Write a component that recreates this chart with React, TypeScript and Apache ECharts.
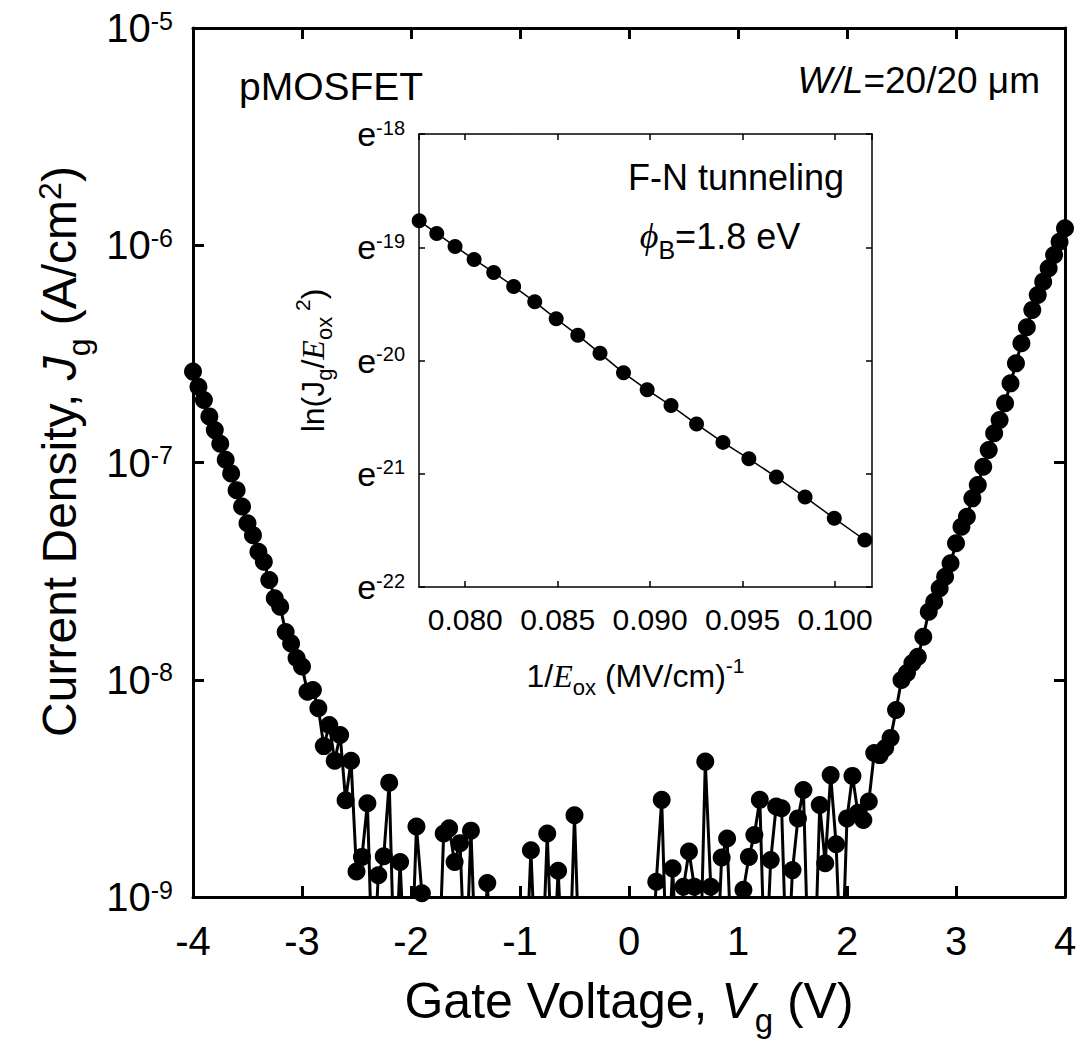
import React, { useEffect, useRef } from "react";
import * as echarts from "echarts";

const SANS = "'Liberation Sans', Arial, Helvetica, sans-serif";
const SERIF = "'Liberation Serif', 'Times New Roman', Times, serif";
const BLACK = "#000000";

// ---------- Main plot: gate-voltage sweep (V) and gate current density (A/cm^2) ----------
const V_START = -4;
const V_STEP = 0.05;
// values below 1e-9 A/cm^2 fall under the plotted floor (drawn as 4e-10, clipped)
const gateCurrent: number[] = [
  2.62e-7, 2.23e-7, 1.94e-7, 1.63e-7, 1.41e-7, 1.22e-7, 1.03e-7, 8.91e-8, 7.46e-8, 6.27e-8,
  5.25e-8, 4.63e-8, 3.88e-8, 3.49e-8, 2.88e-8, 2.37e-8, 2.17e-8, 1.66e-8, 1.47e-8, 1.26e-8,
  1.15e-8, 8.81e-9, 8.97e-9, 7.4e-9, 4.95e-9, 6.19e-9, 4.24e-9, 5.57e-9, 2.79e-9, 4.24e-9,
  1.31e-9, 1.53e-9, 2.7e-9, 4e-10, 1.26e-9, 1.54e-9, 3.36e-9, 4e-10, 1.45e-9, 4e-10,
  4e-10, 2.11e-9, 1.04e-9, 4e-10, 4e-10, 4e-10, 1.96e-9, 2.07e-9, 1.45e-9, 1.77e-9,
  4e-10, 2.02e-9, 4e-10, 4e-10, 1.16e-9, 4e-10, 4e-10, 4e-10, 4e-10, 4e-10,
  4e-10, 4e-10, 1.64e-9, 4e-10, 4e-10, 1.96e-9, 4e-10, 1.32e-9, 4e-10, 4e-10,
  2.38e-9, 4e-10, 4e-10, 4e-10, 4e-10, 4e-10, 4e-10, 4e-10, 4e-10, 4e-10,
  4e-10, 4e-10, 4e-10, 4e-10, 4e-10, 1.175e-9, 2.8e-9, 4e-10, 1.355e-9, 4e-10,
  1.115e-9, 1.62e-9, 1.115e-9, 4e-10, 4.2e-9, 1.115e-9, 4e-10, 1.52e-9, 1.86e-9, 4e-10,
  4e-10, 1.08e-9, 1.53e-9, 1.93e-9, 2.8e-9, 4e-10, 1.48e-9, 2.61e-9, 2.56e-9, 4e-10,
  1.33e-9, 2.3e-9, 3.11e-9, 4e-10, 4e-10, 2.65e-9, 1.43e-9, 3.64e-9, 1.75e-9, 4e-10,
  2.3e-9, 3.61e-9, 2.44e-9, 2.26e-9, 2.75e-9, 4.6e-9, 4.5e-9, 4.85e-9, 5.4e-9, 7.26e-9,
  9.97e-9, 1.074e-8, 1.194e-8, 1.277e-8, 1.578e-8, 2.056e-8, 2.287e-8, 2.636e-8, 2.98e-8, 3.44e-8,
  4.25e-8, 5.06e-8, 5.63e-8, 6.84e-8, 7.88e-8, 9.56e-8, 1.141e-7, 1.363e-7, 1.569e-7, 1.873e-7,
  2.314e-7, 2.86e-7, 3.54e-7, 4.19e-7, 5.04e-7, 5.9e-7, 6.8e-7, 7.83e-7, 9.02e-7, 1.038e-6,
  1.197e-6,
];
const gateVoltage: number[] = gateCurrent.map((_, i) => +(V_START + i * V_STEP).toFixed(2));

// ---------- Inset: Fowler-Nordheim plot ----------
const invField: number[] = [
  0.07751, 0.07846, 0.07945, 0.08048, 0.08154, 0.08262, 0.08376, 0.08492, 0.08609, 0.08729,
  0.08856, 0.08984, 0.09113, 0.09251, 0.09394, 0.09534, 0.09683, 0.09838, 0.09996, 0.10161,
];
const lnJE2: number[] = [
  -18.767, -18.878, -18.993, -19.108, -19.222, -19.346, -19.482, -19.632, -19.776, -19.937,
  -20.109, -20.259, -20.398, -20.561, -20.723, -20.868, -21.029, -21.206, -21.394, -21.585,
];

const tok = (size: number, extra: Record<string, unknown> = {}, family: string = SANS) => ({
  fontSize: size,
  lineHeight: size,
  fontFamily: family,
  color: BLACK,
  fill: BLACK,
  ...extra,
});

const xTitleRich = {
  t: tok(50),
  i: tok(50, { fontStyle: "italic" }),
  sub: tok(33, { padding: [38, 0, 0, 0] }),
};
const yTitleRich = {
  t: tok(48),
  i: tok(48, { fontStyle: "italic" }),
  sub: tok(32, { padding: [40, 0, 0, 0] }),
  sup: tok(32, { padding: [0, 0, 18, 0] }),
};
const insetNameRich = {
  t: tok(32),
  e: tok(32, { fontStyle: "italic" }, SERIF),
  sub: tok(22, { padding: [22, 0, 0, 0] }),
  sup: tok(21, { padding: [0, 0, 22, 0] }),
};
const mainTickRich = { b: tok(40), s: tok(25, { padding: [0, 0, 15, 0] }) };
const insetTickRich = { e: tok(34), s: tok(20, { padding: [0, 0, 13, 0] }) };

const mainLine = { show: true, onZero: false, lineStyle: { color: BLACK, width: 3 } };
const mainTick = { show: true, inside: true, length: 11, lineStyle: { color: BLACK, width: 3 } };
const insetLine = { show: true, onZero: false, lineStyle: { color: BLACK, width: 1.5 } };
const insetTick = { show: true, inside: true, length: 6, lineStyle: { color: BLACK, width: 1.5 } };
const noSplit = { show: false };

function buildOption() {
  return {
    animation: false,
    backgroundColor: "#ffffff",
    grid: [
      { left: 193, top: 28, width: 872, height: 869, outerBoundsMode: "none", containLabel: false },
      { left: 419, top: 134, width: 453, height: 453, outerBoundsMode: "none", containLabel: false },
    ],
    xAxis: [
      {
        type: "value",
        gridIndex: 0,
        position: "bottom",
        min: -4,
        max: 4,
        interval: 1,
        axisLine: mainLine,
        axisTick: mainTick,
        splitLine: noSplit,
        axisLabel: { color: BLACK, fontSize: 40, lineHeight: 40, fontFamily: SANS, margin: 24 },
        name: "{t|Gate Voltage, }{i|V}{sub|g}{t| (V)}",
        nameLocation: "middle",
        nameGap: 76,
        nameTextStyle: { rich: xTitleRich },
      },
      {
        type: "value",
        gridIndex: 0,
        position: "top",
        min: -4,
        max: 4,
        interval: 1,
        axisLine: mainLine,
        axisTick: mainTick,
        splitLine: noSplit,
        axisLabel: { show: false },
      },
      {
        type: "value",
        gridIndex: 1,
        position: "bottom",
        min: 0.0775,
        max: 0.102,
        splitNumber: 5,
        axisLine: insetLine,
        axisTick: insetTick,
        splitLine: noSplit,
        axisLabel: {
          color: BLACK,
          fontSize: 30,
          lineHeight: 30,
          fontFamily: SANS,
          margin: 17,
          showMinLabel: false,
          showMaxLabel: false,
          formatter: (v: number) => v.toFixed(3),
        },
        name: "{t|1/}{e|E}{sub|ox}{t| (MV/cm)}{sup|-1}",
        nameLocation: "middle",
        nameGap: 73,
        nameTextStyle: { rich: insetNameRich, padding: [0, 20, 0, 0] },
      },
      {
        type: "value",
        gridIndex: 1,
        position: "top",
        min: 0.0775,
        max: 0.102,
        splitNumber: 5,
        axisLine: insetLine,
        axisTick: insetTick,
        splitLine: noSplit,
        axisLabel: { show: false },
      },
    ],
    yAxis: [
      {
        type: "log",
        logBase: 10,
        gridIndex: 0,
        position: "left",
        min: 1e-9,
        max: 1e-5,
        axisLine: mainLine,
        axisTick: mainTick,
        minorTick: { show: false },
        splitLine: noSplit,
        axisLabel: {
          margin: 20,
          formatter: (v: number) => `{b|10}{s|${Math.round(Math.log10(v))}}`,
          rich: mainTickRich,
        },
        name: "{t|Current Density, }{i|J}{sub|g}{t| (A/cm}{sup|2}{t|)}",
        nameLocation: "middle",
        nameRotate: 90,
        nameGap: 106,
        nameTextStyle: { rich: yTitleRich, padding: [0, 0, 0, 22] },
      },
      {
        type: "log",
        logBase: 10,
        gridIndex: 0,
        position: "right",
        min: 1e-9,
        max: 1e-5,
        axisLine: mainLine,
        axisTick: mainTick,
        minorTick: { show: false },
        splitLine: noSplit,
        axisLabel: { show: false },
      },
      {
        type: "value",
        gridIndex: 1,
        position: "left",
        min: -22,
        max: -18,
        interval: 1,
        axisLine: insetLine,
        axisTick: insetTick,
        splitLine: noSplit,
        axisLabel: {
          margin: 14,
          formatter: (v: number) => `{e|e}{s|${v}}`,
          rich: insetTickRich,
        },
        name: "{t|ln(J}{sub|g}{t|/}{e|E}{sub|ox}{sup| 2}{t|)}",
        nameLocation: "middle",
        nameRotate: 90,
        nameGap: 90,
        nameTextStyle: { rich: insetNameRich },
      },
      {
        type: "value",
        gridIndex: 1,
        position: "right",
        min: -22,
        max: -18,
        interval: 1,
        axisLine: insetLine,
        axisTick: insetTick,
        splitLine: noSplit,
        axisLabel: { show: false },
      },
    ],
    series: [
      {
        type: "line",
        xAxisIndex: 0,
        yAxisIndex: 0,
        data: gateVoltage.map((v, i) => [v, gateCurrent[i]]),
        symbol: "circle",
        symbolSize: 18,
        showSymbol: true,
        showAllSymbol: true,
        clip: true,
        silent: true,
        lineStyle: { color: BLACK, width: 3 },
        itemStyle: { color: BLACK },
      },
      {
        type: "line",
        xAxisIndex: 2,
        yAxisIndex: 2,
        data: invField.map((x, i) => [x, lnJE2[i]]),
        symbol: "circle",
        symbolSize: 15,
        showSymbol: true,
        showAllSymbol: true,
        clip: true,
        silent: true,
        lineStyle: { color: BLACK, width: 1.5 },
        itemStyle: { color: BLACK },
      },
    ],
    graphic: [
      {
        type: "text",
        x: 239,
        y: 86,
        style: {
          text: "pMOSFET",
          fontSize: 39,
          fontFamily: SANS,
          fill: BLACK,
          align: "left",
          verticalAlign: "middle",
          textAlign: "left",
          textVerticalAlign: "middle",
        },
      },
      {
        type: "text",
        x: 1040,
        y: 80,
        style: {
          text: "{i|W/L}{t|=20/20 μm}",
          rich: { i: tok(37, { fontStyle: "italic" }), t: tok(37) },
          fill: BLACK,
          align: "right",
          verticalAlign: "middle",
          textAlign: "right",
          textVerticalAlign: "middle",
        },
      },
      {
        type: "text",
        x: 736,
        y: 177,
        style: {
          text: "F-N tunneling",
          fontSize: 36,
          fontFamily: SANS,
          fill: BLACK,
          align: "center",
          verticalAlign: "middle",
          textAlign: "center",
          textVerticalAlign: "middle",
        },
      },
      {
        type: "text",
        x: 720,
        y: 236,
        style: {
          text: "{p|ϕ}{sub|B}{t|=1.8 eV}",
          rich: {
            p: tok(36, { fontStyle: "italic" }, SERIF),
            sub: tok(25, { padding: [28, 0, 0, 0] }),
            t: tok(36),
          },
          fill: BLACK,
          align: "center",
          verticalAlign: "middle",
          textAlign: "center",
          textVerticalAlign: "middle",
        },
      },
    ],
  };
}

export default function App() {
  const ref = useRef<HTMLDivElement>(null);
  useEffect(() => {
    document.body.style.margin = "0";
    if (!ref.current) return;
    const chart = echarts.init(ref.current, undefined, { renderer: "svg" });
    chart.setOption(buildOption() as any);
    return () => chart.dispose();
  }, []);
  return <div ref={ref} style={{ width: 1078, height: 1050 }} />;
}
